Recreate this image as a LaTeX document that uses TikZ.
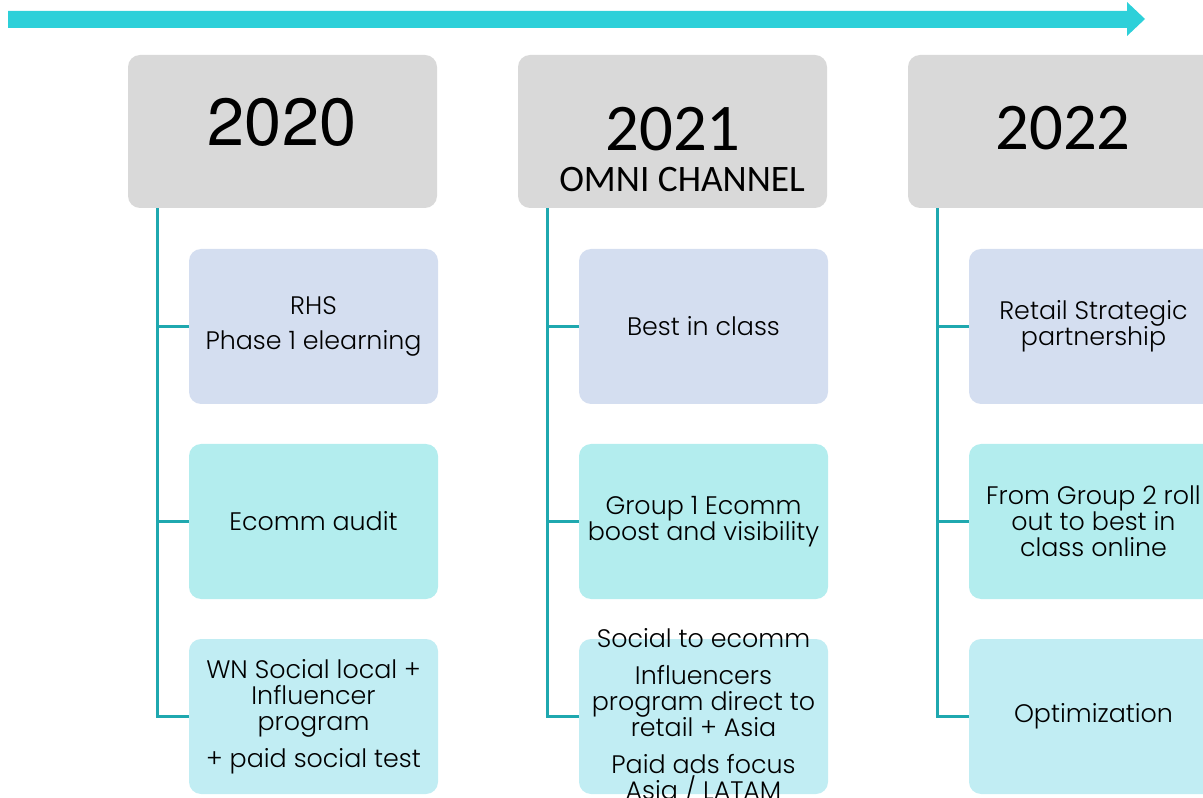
\documentclass[tikz,border=0pt]{standalone}
\usepackage{fontspec}
\setmainfont{Poppins}[UprightFont=* Light]
\newfontfamily\heros{TeX Gyre Heros}
\newfontfamily\carlito{Carlito}

\tikzset{every picture/.style={line width=0.75pt}}
\tikzset{
  yearbox/.style={fill={rgb, 255:red, 217; green, 217; blue, 217 }, rounded corners=9pt, minimum width=231.75pt, minimum height=114.75pt, inner sep=0pt},
  taskbox/.style={rounded corners=9pt, minimum width=186.75pt, minimum height=116.25pt, align=center, inner sep=0pt, font=\fontsize{19}{19.5}\selectfont},
  bluebox/.style={taskbox, fill={rgb, 255:red, 212; green, 222; blue, 240 }},
  aquabox/.style={taskbox, fill={rgb, 255:red, 179; green, 237; blue, 238 }},
  skybox/.style={taskbox, fill={rgb, 255:red, 193; green, 237; blue, 243 }},
  spine/.style={draw={rgb, 255:red, 31; green, 168; blue, 175 }, line width=2.25pt},
}

\begin{document}
\begin{tikzpicture}[x=0.75pt,y=0.75pt,yscale=-1,xscale=1]
\useasboundingbox (0,0) rectangle (1203,798);
\clip (0,0) rectangle (1203,798);

%Time arrow
\draw [draw=none, fill={rgb, 255:red, 45; green, 208; blue, 217 }] (8,11) -- (1127,11) -- (1127,2) -- (1145,19) -- (1127,36) -- (1127,28) -- (8,28) -- cycle ;

%Year headers
\draw (282.5,131.5) node [yearbox] (h20) {};
\draw (672.5,131.5) node [yearbox] (h21) {};
\draw (1062.5,131.5) node [yearbox] (h22) {};

% Text Node
\draw (282,122.5) node [font=\heros\fontsize{50}{50}\selectfont] (y20) {2020};
% Text Node
\draw (673,129) node [font=\carlito\fontsize{50}{50}\selectfont] (y21) {2021};
% Text Node
\draw (682,179.5) node [font=\carlito\fontsize{28}{28}\selectfont] (o21) {OMNI CHANNEL};
% Text Node
\draw (1063,128) node [font=\carlito\fontsize{50}{50}\selectfont] (y22) {2022};

%2020 column
\draw (313.5,326.5) node [bluebox] (b20a) {RHS\\[6.75pt]Phase 1 elearning};
\draw (313.5,521.5) node [aquabox] (b20b) {Ecomm audit};
\draw (313.5,716.5) node [skybox] (b20c) {WN Social local +\\Influencer\\program\\[8pt]+ paid social test};

%2021 column
\draw (703.5,326.5) node [bluebox] (b21a) {Best in class};
\draw (703.5,521.5) node [aquabox] (b21b) {Group 1 Ecomm\\boost and visibility};
\draw (703.5,716.5) node [skybox] (b21c) {};
% Text Node
\draw (703.5,716) node [taskbox, minimum height=0pt] (t21c) {Social to ecomm\\[8pt]Influencers\\program direct to\\retail + Asia\\[8pt]Paid ads focus\\Asia / LATAM};

%2022 column
\draw (1093.5,326.5) node [bluebox] (b22a) {Retail Strategic\\partnership};
\draw (1093.5,521.5) node [aquabox] (b22b) {From Group 2 roll\\out to best in\\class online};
\draw (1093.5,716.5) node [skybox] (b22c) {Optimization};

%Spines and branches
\foreach \c in {20,21,22} {
  \coordinate (s\c) at ([xshift=22.5pt]h\c.south west);
  \draw [spine] (s\c) |- (b\c c.west);
  \draw [spine] (b\c a.west) -- (b\c a.west -| s\c);
  \draw [spine] (b\c b.west) -- (b\c b.west -| s\c);
}

\end{tikzpicture}
\end{document}
